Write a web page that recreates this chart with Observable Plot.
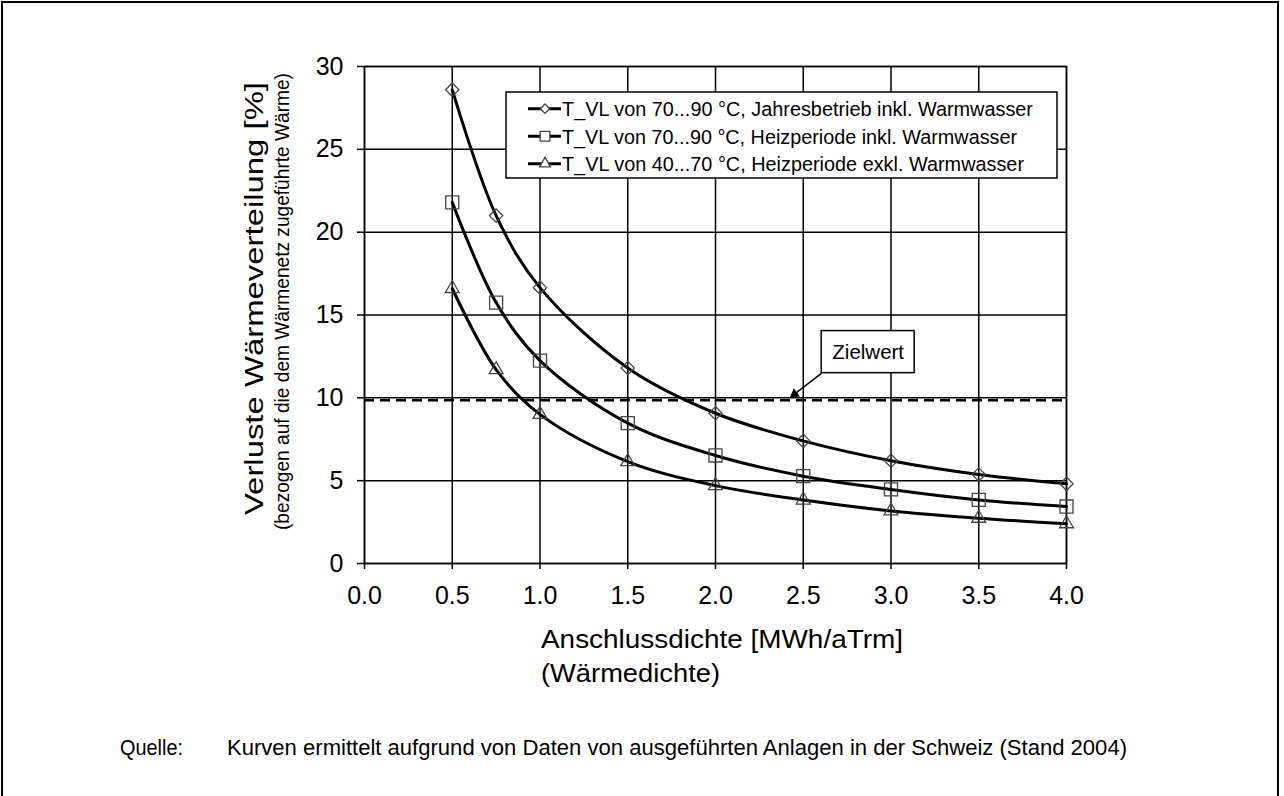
<!DOCTYPE html>
<html>
<head>
<meta charset="utf-8">
<script src="https://cdn.jsdelivr.net/npm/d3@7"></script>
<script src="https://cdn.jsdelivr.net/npm/@observablehq/plot@0.6"></script>
<style>
  html, body { margin: 0; padding: 0; background: white; }
  body { width: 1284px; height: 796px; position: relative; overflow: hidden; font-family: "Liberation Sans", Arial, Helvetica, sans-serif; }
  #border { position: absolute; left: 1px; top: 1px; width: 1278px; height: 810px; border: 2px solid black; box-sizing: border-box; }
  #chart { position: absolute; left: 0; top: 0; }
  #overlay { position: absolute; left: 0; top: 0; pointer-events: none; }
</style>
</head>
<body>
<div id="border"></div>
<div id="chart"></div>
<svg id="overlay" width="1284" height="796"></svg>
<script>
// ---- data ----
const xValues = [0.5, 0.75, 1.0, 1.5, 2.0, 2.5, 3.0, 3.5, 4.0];
const jahresbetriebInkl = [28.6, 21.0, 16.65, 11.8, 9.07, 7.4, 6.2, 5.37, 4.81];
const heizperiodeInkl   = [21.8, 15.75, 12.25, 8.47, 6.52, 5.27, 4.47, 3.84, 3.44];
const heizperiodeExkl   = [16.6, 11.7, 9.0, 6.15, 4.7, 3.83, 3.17, 2.73, 2.4];
const seriesNames = [
  "T_VL von 70...90 °C, Jahresbetrieb inkl. Warmwasser",
  "T_VL von 70...90 °C, Heizperiode inkl. Warmwasser",
  "T_VL von 40...70 °C, Heizperiode exkl. Warmwasser"
];
const xTicks = [0, 0.5, 1, 1.5, 2, 2.5, 3, 3.5, 4];
const yTicks = [0, 5, 10, 15, 20, 25, 30];
const zielwert = [9.85];
const zielwertLabel = ["Zielwert"];
const zielwertBox = [{x1: 2.605, x2: 3.135, y1: 11.49, y2: 14.03, xText: 2.87, yText: 12.76}];
const zielwertArrow = [{x1: 2.605, y1: 11.49, x2: 2.45, y2: 10.22}];
const yLabel = "Verluste Wärmeverteilung [%]";
const ySubLabel = "(bezogen auf die dem Wärmenetz zugeführte Wärme)";
const xLabel = "Anschlussdichte [MWh/aTrm]";
const xSubLabel = "(Wärmedichte)";
const captionLead = "Quelle:";
const captionText = "Kurven ermittelt aufgrund von Daten von ausgeführten Anlagen in der Schweiz (Stand 2004)";

const symbols = ["diamond2", "square2", "triangle2"];
const symbolR = [6, 8.3, 6.6];
const legendSymbolR = [4.2, 6.2, 5.2];
const allSeries = [jahresbetriebInkl, heizperiodeInkl, heizperiodeExkl];
const table = allSeries.map((vals, i) => xValues.map((x, j) => ({series: seriesNames[i], x, y: vals[j]})));

const font = '"Liberation Sans", Arial, Helvetica, sans-serif';

const marks = [
  Plot.gridX({ticks: xTicks, stroke: "black", strokeOpacity: 1, strokeWidth: 1.5}),
  Plot.gridY({ticks: yTicks, stroke: "black", strokeOpacity: 1, strokeWidth: 1.5}),
  Plot.axisX({ticks: xTicks, tickFormat: d3.format(".1f"), tickSize: 6, tickPadding: 17, stroke: "black", strokeWidth: 1.5, label: null}),
  Plot.axisY({ticks: yTicks, tickSize: 7, tickPadding: 14, stroke: "black", strokeWidth: 1.5, label: null}),
  Plot.ruleY(zielwert, {stroke: "black", strokeWidth: 2.5, strokeDasharray: "10,6"}),
  Plot.frame({stroke: "black", strokeWidth: 1.5})
];
table.forEach((data, i) => {
  marks.push(Plot.line(data, {x: "x", y: "y", curve: "catmull-rom", stroke: "black", strokeWidth: 3}));
  marks.push(Plot.dot(data, {x: "x", y: "y", symbol: symbols[i], r: symbolR[i], stroke: "#444", strokeWidth: 1.3, fill: "none"}));
});
marks.push(
  Plot.link(zielwertArrow, {x1: "x1", y1: "y1", x2: "x2", y2: "y2", stroke: "black", strokeWidth: 1.5}),
  Plot.dot(zielwertArrow, {x: "x2", y: "y2", symbol: "triangle", r: 3.8, fill: "black", rotate: 233}),
  Plot.rect(zielwertBox, {x1: "x1", x2: "x2", y1: "y1", y2: "y2", fill: "white", stroke: "black", strokeWidth: 1.5}),
  Plot.text(zielwertBox, {x: "xText", y: "yText", text: () => zielwertLabel[0], fontSize: 20.5, fill: "black"})
);

const chart = Plot.plot({
  width: 1284,
  height: 700,
  marginLeft: 364,
  marginRight: 218,
  marginTop: 66,
  marginBottom: 137,
  x: {domain: [0, 4]},
  y: {domain: [0, 30]},
  style: {fontFamily: font, fontSize: "25px", color: "black", background: "transparent", overflow: "visible"},
  marks
});
document.getElementById("chart").appendChild(chart);

// ---- overlay: axis titles, legend, caption ----
const ov = d3.select("#overlay").style("font-family", font);
function txt(x, y, s, size, len, extra) {
  const t = ov.append("text").attr("x", x).attr("y", y).attr("font-size", size).attr("fill", "black").text(s);
  if (len) t.attr("textLength", len).attr("lengthAdjust", "spacingAndGlyphs");
  if (extra) extra(t);
  return t;
}
// y axis titles (rotated)
txt(0, 0, yLabel, 25.5, 433, t => t.attr("text-anchor", "middle").attr("transform", "translate(263,298.5) rotate(-90)"));
txt(0, 0, ySubLabel, 19.5, 457, t => t.attr("text-anchor", "middle").attr("transform", "translate(289,301.5) rotate(-90)"));
// x axis titles
txt(541, 648, xLabel, 26, 362);
txt(541, 682, xSubLabel, 26, 179);
// caption
txt(120, 755, captionLead, 22, 63);
txt(227, 755, captionText, 22, 900);

// legend
ov.append("rect").attr("x", 506).attr("y", 92).attr("width", 551).attr("height", 86)
  .attr("fill", "white").attr("stroke", "black").attr("stroke-width", 1.5);
const legendLens = [471, 455, 462];
const rowBase = [116, 143.5, 171];
const symFns = [d3.symbolDiamond2, d3.symbolSquare2, d3.symbolTriangle2];
seriesNames.forEach((name, i) => {
  const cy = rowBase[i] - 7.3;
  ov.append("line").attr("x1", 528).attr("x2", 561).attr("y1", cy).attr("y2", cy)
    .attr("stroke", "black").attr("stroke-width", 3);
  ov.append("path").attr("d", d3.symbol(symFns[i], Math.PI * legendSymbolR[i] * legendSymbolR[i])())
    .attr("transform", `translate(545,${cy})`).attr("fill", "white").attr("stroke", "#444").attr("stroke-width", 1.3);
  txt(562, rowBase[i], name, 20.5, legendLens[i]);
});
</script>
</body>
</html>
